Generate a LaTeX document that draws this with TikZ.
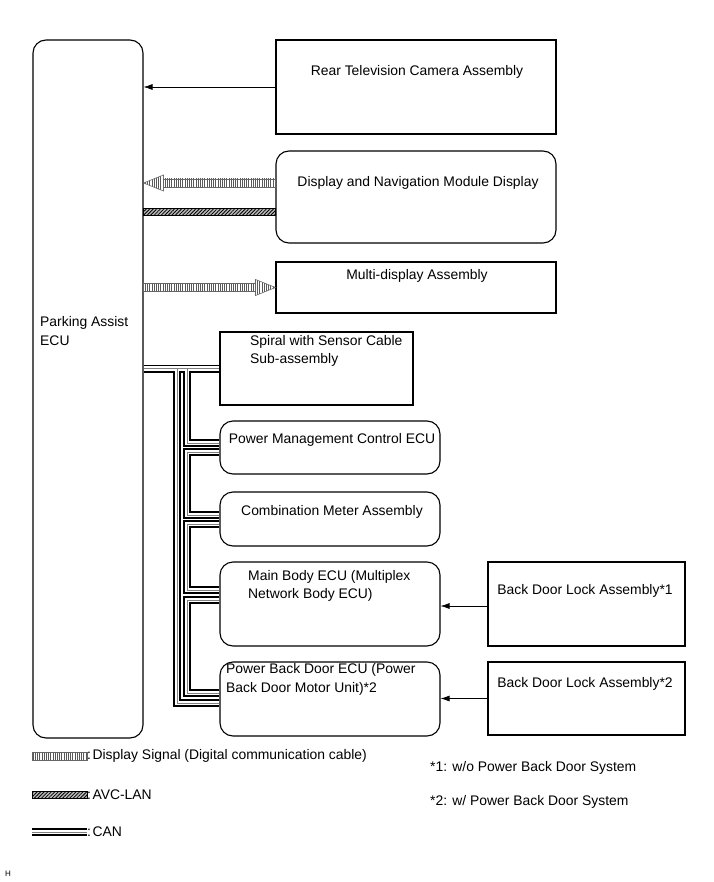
\documentclass[tikz,border=0pt]{standalone}
\usepackage{fontspec}
\setmainfont{Liberation Sans}
\usetikzlibrary{arrows.meta,patterns.meta}

\begin{document}
\begin{tikzpicture}[x=1pt, y=-1pt,
    box/.style={draw, line width=1.1pt, inner sep=0pt},
    rbox/.style={box, rounded corners=13pt},
    txt/.style={font=\fontsize{13.9}{18.5}\selectfont, inner sep=0pt, align=left},
    arr/.style={-{Latex[length=9pt,width=6pt]}, line width=0.7pt},
    can/.style={line width=8pt, black, postaction={draw, white, line width=4.4pt}, postaction={draw, gray, line width=0.8pt}},
    dsig/.style={draw=black!60, line width=0.6pt, pattern={Lines[angle=90,distance=2.2pt,line width=0.6pt]}, pattern color=black!65},
    avc/.style={draw=black, line width=0.6pt, preaction={fill=gray!55}, pattern={Lines[angle=45,distance=2.5pt,line width=0.8pt]}, pattern color=black}]

    \useasboundingbox (0,0) rectangle (713,882);

    \node[rbox, minimum width=110pt, minimum height=698pt] (ecu) at (88,389) {};
    \node[txt, anchor=west] (ecutxt) at (40,331) {Parking Assist\\ECU};

    \node[box, minimum width=280pt, minimum height=94pt] (cam) at (416,87) {};
    \node[txt] (camtxt) at (417,72) {Rear Television Camera Assembly};

    \node[rbox, minimum width=280pt, minimum height=92pt] (dnm) at (416,197) {};
    \node[txt] (dnmtxt) at (418,183) {Display and Navigation Module Display};

    \node[box, minimum width=280pt, minimum height=51pt] (mda) at (416,287.5) {};
    \node[txt] (mdatxt) at (417,276) {Multi-display Assembly};

    \node[box, minimum width=193pt, minimum height=73pt] (spr) at (316.5,368.5) {};
    \node[txt, anchor=west] (sprtxt) at (250,351) {Spiral with Sensor Cable\\Sub-assembly};

    \node[rbox, minimum width=220pt, minimum height=53pt] (pmc) at (330,447.5) {};
    \node[txt] (pmctxt) at (332,440) {Power Management Control ECU};

    \node[rbox, minimum width=220pt, minimum height=54pt] (cmb) at (330,519) {};
    \node[txt] (cmbtxt) at (332,512) {Combination Meter Assembly};

    \node[rbox, minimum width=220pt, minimum height=84pt] (mbe) at (330,604) {};
    \node[txt, anchor=west] (mbetxt) at (248,586) {Main Body ECU (Multiplex\\Network Body ECU)};

    \node[rbox, minimum width=220pt, minimum height=74pt] (pbd) at (330,699) {};
    \node[txt, anchor=west] (pbdtxt) at (226,679.5) {Power Back Door ECU (Power\\Back Door Motor Unit)*2};

    \node[box, minimum width=197pt, minimum height=84pt] (bdl1) at (586.5,604) {};
    \node[txt] (bdl1txt) at (585,591) {Back Door Lock Assembly*1};

    \node[box, minimum width=197pt, minimum height=73pt] (bdl2) at (586.5,698.5) {};
    \node[txt] (bdl2txt) at (585,684) {Back Door Lock Assembly*2};

    % plain signals
    \draw[arr] (cam.west) -- (ecu.east |- cam.west);
    \draw[arr] ([yshift=-2pt]bdl1.west) -- ([yshift=-2pt]mbe.east |- bdl1.west);
    \draw[arr] (bdl2.west) -- (pbd.east |- bdl2.west);

    % display signal and AVC-LAN
    \coordinate (dnmsig) at ([yshift=14pt]dnm.west);
    \coordinate (dnmtip) at (ecu.east |- dnmsig);
    \path[dsig] ([xshift=20pt,yshift=4pt]dnmtip) rectangle ([yshift=-4pt]dnmsig);
    \path[dsig] (dnmtip) -- ([xshift=20pt,yshift=8pt]dnmtip) -- ([xshift=20pt,yshift=-8pt]dnmtip) -- cycle;

    \coordinate (dnmavc) at ([yshift=-15pt]dnm.west);
    \coordinate (avctail) at (ecu.east |- dnmavc);
    \path[avc] ([yshift=3.5pt]avctail) rectangle ([yshift=-3.5pt]dnmavc);

    \coordinate (mdatail) at (ecu.east |- mda.west);
    \path[dsig] ([yshift=4pt]mdatail) rectangle ([xshift=-20pt,yshift=-4pt]mda.west);
    \path[dsig] (mda.west) -- ([xshift=-20pt,yshift=8pt]mda.west) -- ([xshift=-20pt,yshift=-8pt]mda.west) -- cycle;

    % CAN
    \coordinate (railA) at (177,0);
    \coordinate (railB) at (187,0);
    \coordinate (pmcin) at ([yshift=4.5pt]pmc.west);
    \coordinate (pmcout) at ([yshift=-4.5pt]pmc.west);
    \coordinate (cmbin) at ([yshift=4pt]cmb.west);
    \coordinate (cmbout) at ([yshift=-5pt]cmb.west);
    \coordinate (mbein) at ([yshift=14pt]mbe.west);
    \coordinate (mbeout) at ([yshift=4pt]mbe.west);
    \coordinate (pbdin) at ([yshift=6pt]pbd.west);
    \coordinate (pbdlow) at ([yshift=-4pt]pbd.west);

    \draw[can] (ecu.east |- spr.west) -- (spr.west)
        (railA |- spr.west) |- (pbdlow)
        (railB |- spr.west) |- (pmcin)
        (pmcout) -| (railB |- cmbin) -- (cmbin)
        (cmbout) -| (railB |- mbein) -- (mbein)
        (mbeout) -| (railB |- pbdin) -- (pbdin);

    % legend
    \path[dsig] (32,752) rectangle (87,760);
    \node[txt, anchor=west] (sigtxt) at (87,756) {:\hspace{1.5pt}Display Signal (Digital communication cable)};

    \path[avc] (32,791) rectangle (87,798);
    \node[txt, anchor=west] (avctxt) at (87,794.5) {:\hspace{1.5pt}AVC-LAN};

    \draw[can] (32,832) -- (87,832);
    \node[txt, anchor=west] (cantxt) at (87,832) {:\hspace{1.5pt}CAN};

    \node[txt, anchor=west] (note1) at (430,768) {*1: w/o Power Back Door System};
    \node[txt, anchor=west] (note2) at (430,802) {*2: w/ Power Back Door System};

    \node[font=\fontsize{8}{9}\selectfont, inner sep=0pt, anchor=west] (htxt) at (5,874) {H};

\end{tikzpicture}
\end{document}
